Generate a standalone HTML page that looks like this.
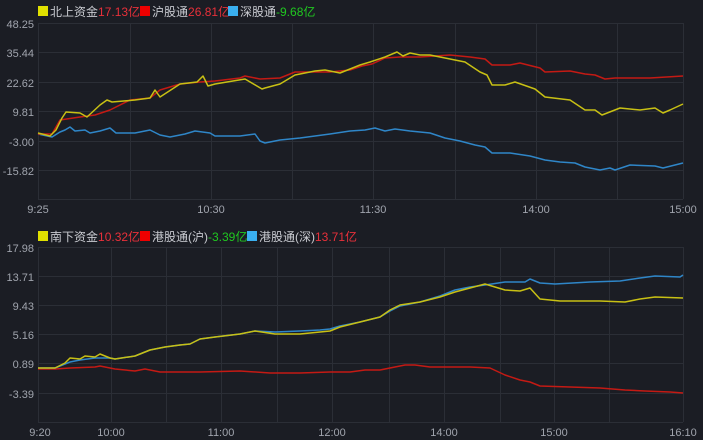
<!DOCTYPE html>
<html><head><meta charset="utf-8"><style>
body{margin:0;background:#1b1d24;width:703px;height:440px;overflow:hidden;font-family:"Liberation Sans","Noto Sans CJK SC",sans-serif;}
svg{display:block}
</style></head><body>
<svg width="703" height="440" xmlns="http://www.w3.org/2000/svg">
<rect width="703" height="440" fill="#1b1d24"/>
<g stroke="#2b2e36" stroke-width="1" fill="none">
<path d="M38 23.5H683M38 52.5H683M38 82.5H683M38 111.5H683M38 141.5H683M38 170.5H683M38 199.5H683"/>
<path d="M38.5 23V199M130.5 23V199M211.5 23V199M292.5 23V199M373.5 23V199M455.5 23V199M536.5 23V199M617.5 23V199M683.5 23V199"/>
<path d="M38 247.5H683M38 276.5H683M38 305.5H683M38 334.5H683M38 363.5H683M38 393.5H683M38 422.5H683"/>
<path d="M38.5 247V422M111.5 247V422M166.5 247V422M221.5 247V422M277.5 247V422M332.5 247V422M389.5 247V422M444.5 247V422M500.5 247V422M554.5 247V422M609.5 247V422M683.5 247V422"/>
</g>
<g font-size="11" fill="#a0a4ad" text-anchor="end">
<text x="34" y="28">48.25</text><text x="34" y="57">35.44</text><text x="34" y="87">22.62</text><text x="34" y="116">9.81</text><text x="34" y="146">-3.00</text><text x="34" y="175">-15.82</text>
<text x="34" y="252">17.98</text><text x="34" y="281">13.71</text><text x="34" y="310">9.43</text><text x="34" y="339">5.16</text><text x="34" y="368">0.89</text><text x="34" y="398">-3.39</text>
</g>
<g font-size="11" fill="#a0a4ad" text-anchor="middle">
<text x="38" y="213">9:25</text><text x="211" y="213">10:30</text><text x="373" y="213">11:30</text><text x="536" y="213">14:00</text><text x="683" y="213">15:00</text>
<text x="40" y="436">9:20</text><text x="111" y="436">10:00</text><text x="221" y="436">11:00</text><text x="332" y="436">12:00</text><text x="444" y="436">14:00</text><text x="554" y="436">15:00</text><text x="683" y="436">16:10</text>
</g>
<g font-size="12">
<rect x="38" y="6" width="10" height="10" fill="#e0e000"/>
<text x="50" y="16"><tspan fill="#c8cad0">北上资金</tspan><tspan fill="#e8303a">17.13亿</tspan></text>
<rect x="140" y="6" width="10" height="10" fill="#ee0000"/>
<text x="152" y="16"><tspan fill="#c8cad0">沪股通</tspan><tspan fill="#e8303a">26.81亿</tspan></text>
<rect x="228" y="6" width="10" height="10" fill="#3ab0f0"/>
<text x="240" y="16"><tspan fill="#c8cad0">深股通</tspan><tspan fill="#20c820">-9.68亿</tspan></text>
<rect x="38" y="231" width="10" height="10" fill="#e0e000"/>
<text x="50" y="241"><tspan fill="#c8cad0">南下资金</tspan><tspan fill="#e8303a">10.32亿</tspan></text>
<rect x="140" y="231" width="10" height="10" fill="#ee0000"/>
<text x="152" y="241"><tspan fill="#c8cad0">港股通(沪)</tspan><tspan fill="#20c820">-3.39亿</tspan></text>
<rect x="247" y="231" width="10" height="10" fill="#3ab0f0"/>
<text x="259" y="241"><tspan fill="#c8cad0">港股通(深)</tspan><tspan fill="#e8303a">13.71亿</tspan></text>
</g>
<g fill="none" stroke-width="1.5" stroke-linejoin="round">
<polyline stroke="#2f86c8" points="38,134 52,137 60,132 65,130 70,127 75,131 85,130 90,133 100,131 110,128 116,133 135,133 150,130 160,135 170,137 185,134 195,131 210,133 215,136 240,136 255,134 260,141 265,143 280,140 300,138 330,134 350,131 365,130 375,128 385,131 395,129 410,131 430,133 445,138 460,141 475,145 485,147 492,153 510,153 530,156 545,160 560,162 575,163 585,167 600,170 610,168 615,170 630,165 655,166 663,168 675,165 683,163"/>
<polyline stroke="#c41a14" points="38,134 52,134 60,120 80,117 95,115 110,110 130,100 150,98 160,90 180,84 200,82 215,81 240,78 245,76 260,79 280,78 295,72 330,72 350,70 362,66 372,64 385,58 400,57 420,57 450,55 470,57 485,59 492,65 510,65 520,63 540,68 545,72 570,71 585,74 595,75 605,79 615,78 650,78 683,76"/>
<polyline stroke="#c8c014" points="38,133 50,136 56,130 62,118 66,112 80,113 87,117 100,105 107,100 112,102 135,100 150,98 155,90 160,97 180,84 197,82 203,76 208,86 215,84 245,79 262,89 265,88 280,84 295,75 315,71 325,70 340,73 360,65 370,62 385,57 397,52 403,56 410,53 420,55 430,55 440,57 455,60 465,62 480,72 487,75 492,85 505,85 515,82 535,89 545,97 570,100 585,110 595,110 602,115 620,108 640,110 655,108 663,113 670,110 683,104"/>
<polyline stroke="#c41a14" points="38,369 55,369 70,368 95,367 100,366 115,369 135,371 145,369 160,372 200,372 240,371 270,373 300,373 330,372 350,372 365,370 380,370 395,367 405,365 415,365 430,367 470,367 490,368 505,375 520,380 530,382 540,386 570,387 600,388 625,390 645,391 670,392 683,393"/>
<polyline stroke="#2f86c8" points="38,368 55,368 70,362 80,360 95,358 110,358 115,359 135,356 150,350 165,347 180,345 190,344 200,339 215,337 240,334 255,331 275,332 300,331 320,330 330,329 340,326 360,322 380,317 390,311 400,306 420,302 440,296 455,290 470,287 485,285 505,282 525,282 530,279 540,283 555,284 590,282 620,281 640,278 655,276 680,277 683,275"/>
<polyline stroke="#c8c014" points="38,368 55,368 65,363 70,358 80,359 85,356 95,357 100,354 110,358 115,359 135,356 150,350 165,347 180,345 190,344 200,339 215,337 240,334 255,331 275,334 300,334 320,332 330,331 340,327 360,322 380,317 390,310 400,305 420,302 440,297 455,292 470,288 485,284 505,290 520,291 530,288 540,299 560,301 600,301 625,302 640,299 655,297 683,298"/>
</g>
</svg>
</body></html>
